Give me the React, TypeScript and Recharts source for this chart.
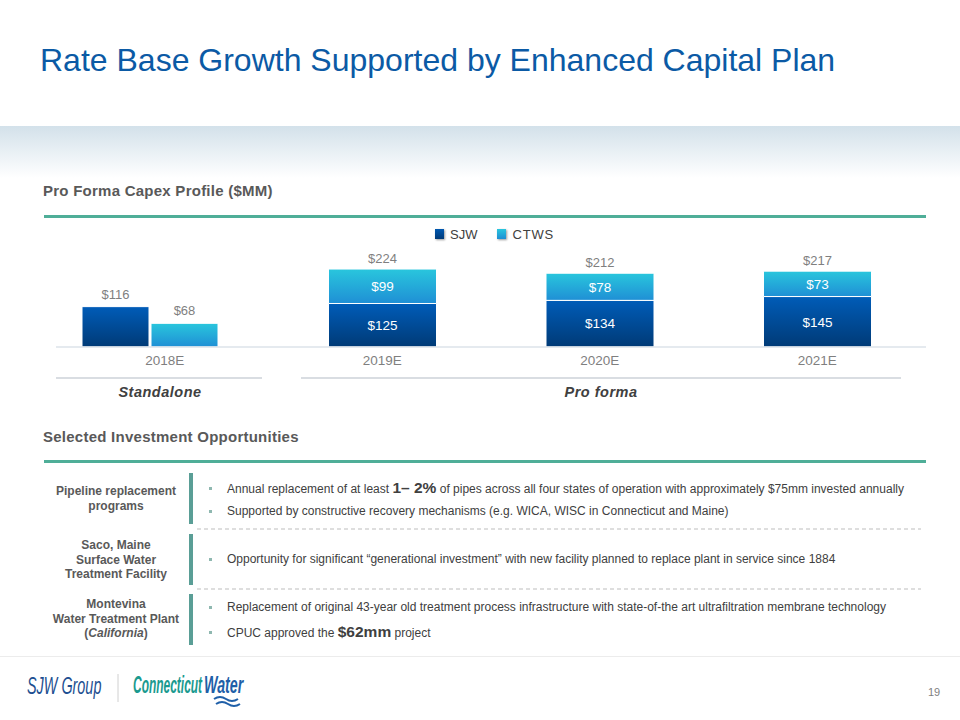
import React from 'react';
import { BarChart, Bar, XAxis, YAxis, LabelList } from 'recharts';

const years = ['2018E', '2019E', '2020E', '2021E'];
const sjwCapex = [116, 125, 134, 145];
const ctwsCapex = [68, 99, 78, 73];
// totals as printed on the slide (rounded source figures)
const totalCapex = [null, 224, 212, 217];
const standaloneYears = ['2018E'];
const seriesNames = ['SJW', 'CTWS'];

const chartData = years.map((year, i) => {
  const solo = standaloneYears.includes(year);
  return {
    year,
    sjwSolo: solo ? sjwCapex[i] : null,
    ctwsSolo: solo ? ctwsCapex[i] : null,
    sjw: solo ? null : sjwCapex[i],
    ctws: solo ? null : ctwsCapex[i],
    total: totalCapex[i],
  };
});

const FONT = '"Liberation Sans", Arial, sans-serif';
const GREEN = '#4fae98';
const dollar = (v: any) => (v == null ? '' : `$${v}`);

const Bullet: React.FC<{ top: number; children: React.ReactNode }> = ({ top, children }) => (
  <div style={{ position: 'absolute', left: 209, top: top - 9, height: 18, display: 'flex', alignItems: 'center', whiteSpace: 'nowrap' }}>
    <span style={{ width: 3, height: 3, background: '#8fb8b0', marginRight: 15 }} />
    <span style={{ fontSize: 12, color: '#404040' }}>{children}</span>
  </div>
);

const RowLabel: React.FC<{ top: number; lines: React.ReactNode[] }> = ({ top, lines }) => (
  <div style={{ position: 'absolute', left: 30, width: 172, top, textAlign: 'center', fontSize: 12, fontWeight: 'bold', color: '#595959', lineHeight: '14.5px' }}>
    {lines.map((l, i) => (
      <div key={i}>{l}</div>
    ))}
  </div>
);

const Dashed: React.FC<{ top: number }> = ({ top }) => (
  <svg style={{ position: 'absolute', left: 197, top }} width={724} height={2}>
    <line x1={0} y1={1} x2={724} y2={1} stroke="#bdbdbd" strokeWidth={1} strokeDasharray="4 3" />
  </svg>
);

const App: React.FC = () => {
  return (
    <div style={{ position: 'absolute', left: 0, top: 0, width: 960, height: 720, background: '#fff', fontFamily: FONT, overflow: 'hidden' }}>
      <div style={{ position: 'absolute', left: 40, top: 42, fontSize: 32, color: '#0b5aa5', whiteSpace: 'nowrap' }}>
        Rate Base Growth Supported by Enhanced Capital Plan
      </div>
      <div style={{ position: 'absolute', left: 0, top: 126, width: 960, height: 52, background: 'linear-gradient(#d3e1ea, #ffffff)' }} />

      <div style={{ position: 'absolute', left: 43, top: 182, fontSize: 15, fontWeight: 'bold', color: '#595959', letterSpacing: 0.25, whiteSpace: 'nowrap' }}>
        Pro Forma Capex Profile ($MM)
      </div>
      <div style={{ position: 'absolute', left: 44, top: 215, width: 882, height: 3, background: GREEN }} />

      {/* legend */}
      <div style={{ position: 'absolute', left: 435, top: 226, display: 'flex', alignItems: 'center', fontSize: 13, color: '#404040', height: 16 }}>
        <span style={{ width: 9, height: 10, background: 'linear-gradient(#0058b0, #003a78)', boxShadow: '1px 1px 2px rgba(0,0,0,0.4)', marginRight: 6 }} />
        <span style={{ marginRight: 20 }}>{seriesNames[0]}</span>
        <span style={{ width: 9, height: 10, background: 'linear-gradient(#2ac6dd, #1f8ed4)', boxShadow: '1px 1px 2px rgba(0,0,0,0.4)', marginRight: 6 }} />
        <span style={{ letterSpacing: 0.8 }}>{seriesNames[1]}</span>
      </div>

      <div style={{ position: 'absolute', left: 0, top: 200 }}>
        <BarChart width={960} height={177} data={chartData} margin={{ top: 60, right: 34, bottom: 0, left: 56 }} barGap={2}>
          <defs>
            <linearGradient id="gSjw" x1="0" y1="0" x2="0" y2="1">
              <stop offset="0%" stopColor="#005cb8" />
              <stop offset="100%" stopColor="#003a76" />
            </linearGradient>
            <linearGradient id="gCtws" x1="0" y1="0" x2="0" y2="1">
              <stop offset="0%" stopColor="#29c6dd" />
              <stop offset="100%" stopColor="#1f8fd5" />
            </linearGradient>
          </defs>
          <XAxis xAxisId="solo" dataKey="year" hide padding={{ left: 0, right: 120 }} />
          <XAxis
            xAxisId="pf"
            dataKey="year"
            tickLine={false}
            axisLine={{ stroke: '#dde3ea', strokeWidth: 1.5 }}
            tick={{ fill: '#7f7f7f', fontSize: 13.5, fontFamily: FONT }}
          />
          <YAxis hide domain={[0, 250]} />
          <Bar xAxisId="solo" dataKey="sjwSolo" barSize={67} fill="url(#gSjw)" stroke="#fff" strokeWidth={1} isAnimationActive={false}>
            <LabelList dataKey="sjwSolo" position="top" offset={8} formatter={dollar} fill="#7f7f7f" fontSize={13} fontFamily={FONT} />
          </Bar>
          <Bar xAxisId="solo" dataKey="ctwsSolo" barSize={67} fill="url(#gCtws)" stroke="#fff" strokeWidth={1} isAnimationActive={false}>
            <LabelList dataKey="ctwsSolo" position="top" offset={8} formatter={dollar} fill="#7f7f7f" fontSize={13} fontFamily={FONT} />
          </Bar>
          <Bar xAxisId="pf" dataKey="sjw" stackId="pf" barSize={108} fill="url(#gSjw)" stroke="#fff" strokeWidth={1} isAnimationActive={false}>
            <LabelList dataKey="sjw" position="center" formatter={dollar} fill="#ffffff" fontSize={13.5} fontFamily={FONT} />
          </Bar>
          <Bar xAxisId="pf" dataKey="ctws" stackId="pf" barSize={108} fill="url(#gCtws)" stroke="#fff" strokeWidth={1} isAnimationActive={false}>
            <LabelList dataKey="ctws" position="center" formatter={dollar} fill="#ffffff" fontSize={13.5} fontFamily={FONT} />
            <LabelList dataKey="total" position="top" offset={6} formatter={dollar} fill="#7f7f7f" fontSize={13} fontFamily={FONT} />
          </Bar>
        </BarChart>
      </div>

      <div style={{ position: 'absolute', left: 56, top: 377, width: 206, height: 2, background: '#d9dde2' }} />
      <div style={{ position: 'absolute', left: 301, top: 377, width: 600, height: 2, background: '#d9dde2' }} />
      <div style={{ position: 'absolute', left: 56, width: 208, top: 384, textAlign: 'center', fontSize: 14.5, fontWeight: 'bold', fontStyle: 'italic', color: '#404040', letterSpacing: 0.5 }}>
        Standalone
      </div>
      <div style={{ position: 'absolute', left: 301, width: 600, top: 384, textAlign: 'center', fontSize: 14.5, fontWeight: 'bold', fontStyle: 'italic', color: '#404040', letterSpacing: 0.5 }}>
        Pro forma
      </div>

      <div style={{ position: 'absolute', left: 43, top: 428, fontSize: 15, fontWeight: 'bold', color: '#595959', letterSpacing: 0.25, whiteSpace: 'nowrap' }}>
        Selected Investment Opportunities
      </div>
      <div style={{ position: 'absolute', left: 44, top: 460, width: 882, height: 3, background: GREEN }} />

      {/* table rows */}
      <RowLabel top={484} lines={['Pipeline replacement', 'programs']} />
      <div style={{ position: 'absolute', left: 189, top: 473, width: 4, height: 51, background: '#5a9e96' }} />
      <Bullet top={488}>
        Annual replacement of at least <b style={{ fontSize: 15.5 }}>1– 2%</b> of pipes across all four states of operation with approximately $75mm invested annually
      </Bullet>
      <Bullet top={511}>Supported by constructive recovery mechanisms (e.g. WICA, WISC in Connecticut and Maine)</Bullet>
      <Dashed top={528} />

      <RowLabel top={538} lines={['Saco, Maine', 'Surface Water', 'Treatment Facility']} />
      <div style={{ position: 'absolute', left: 189, top: 534, width: 4, height: 51, background: '#5a9e96' }} />
      <Bullet top={559}>Opportunity for significant “generational investment” with new facility planned to replace plant in service since 1884</Bullet>
      <Dashed top={588} />

      <RowLabel top={597} lines={['Montevina', 'Water Treatment Plant', <span>(<i>California</i>)</span>]} />
      <div style={{ position: 'absolute', left: 189, top: 594, width: 4, height: 51, background: '#5a9e96' }} />
      <Bullet top={607}>Replacement of original 43-year old treatment process infrastructure with state-of-the art ultrafiltration membrane technology</Bullet>
      <Bullet top={632}>
        CPUC approved the <b style={{ fontSize: 15.5 }}>$62mm</b> project
      </Bullet>

      <div style={{ position: 'absolute', left: 0, top: 656, width: 960, height: 1, background: '#ececec' }} />

      {/* footer logos */}
      <svg style={{ position: 'absolute', left: 0, top: 665 }} width={300} height={50}>
        <text transform="translate(27,29) scale(0.6,1)" fontFamily={FONT} fontStyle="italic" fontSize={24} fill="#1d4f91">
          SJW Group
        </text>
        <line x1={118} y1={9} x2={118} y2={37} stroke="#d0d0d0" strokeWidth={1} />
        <text transform="translate(133,28) scale(0.52,1)" fontFamily={FONT} fontStyle="italic" fontWeight="bold" fontSize={23} fill="#1a9a8f">
          Connecticut
        </text>
        <text transform="translate(204,28) scale(0.62,1)" fontFamily={FONT} fontStyle="italic" fontWeight="bold" fontSize={23} fill="#1f5fa8">
          Water
        </text>
        <path d="M214 34 q6 -4 12 0 t12 0 M216 39 q6 -4 12 0 t12 0" stroke="#1f5fa8" strokeWidth={2} fill="none" />
      </svg>
      <div style={{ position: 'absolute', left: 928, top: 686, fontSize: 11, color: '#7f7f7f' }}>19</div>
    </div>
  );
};

export default App;
